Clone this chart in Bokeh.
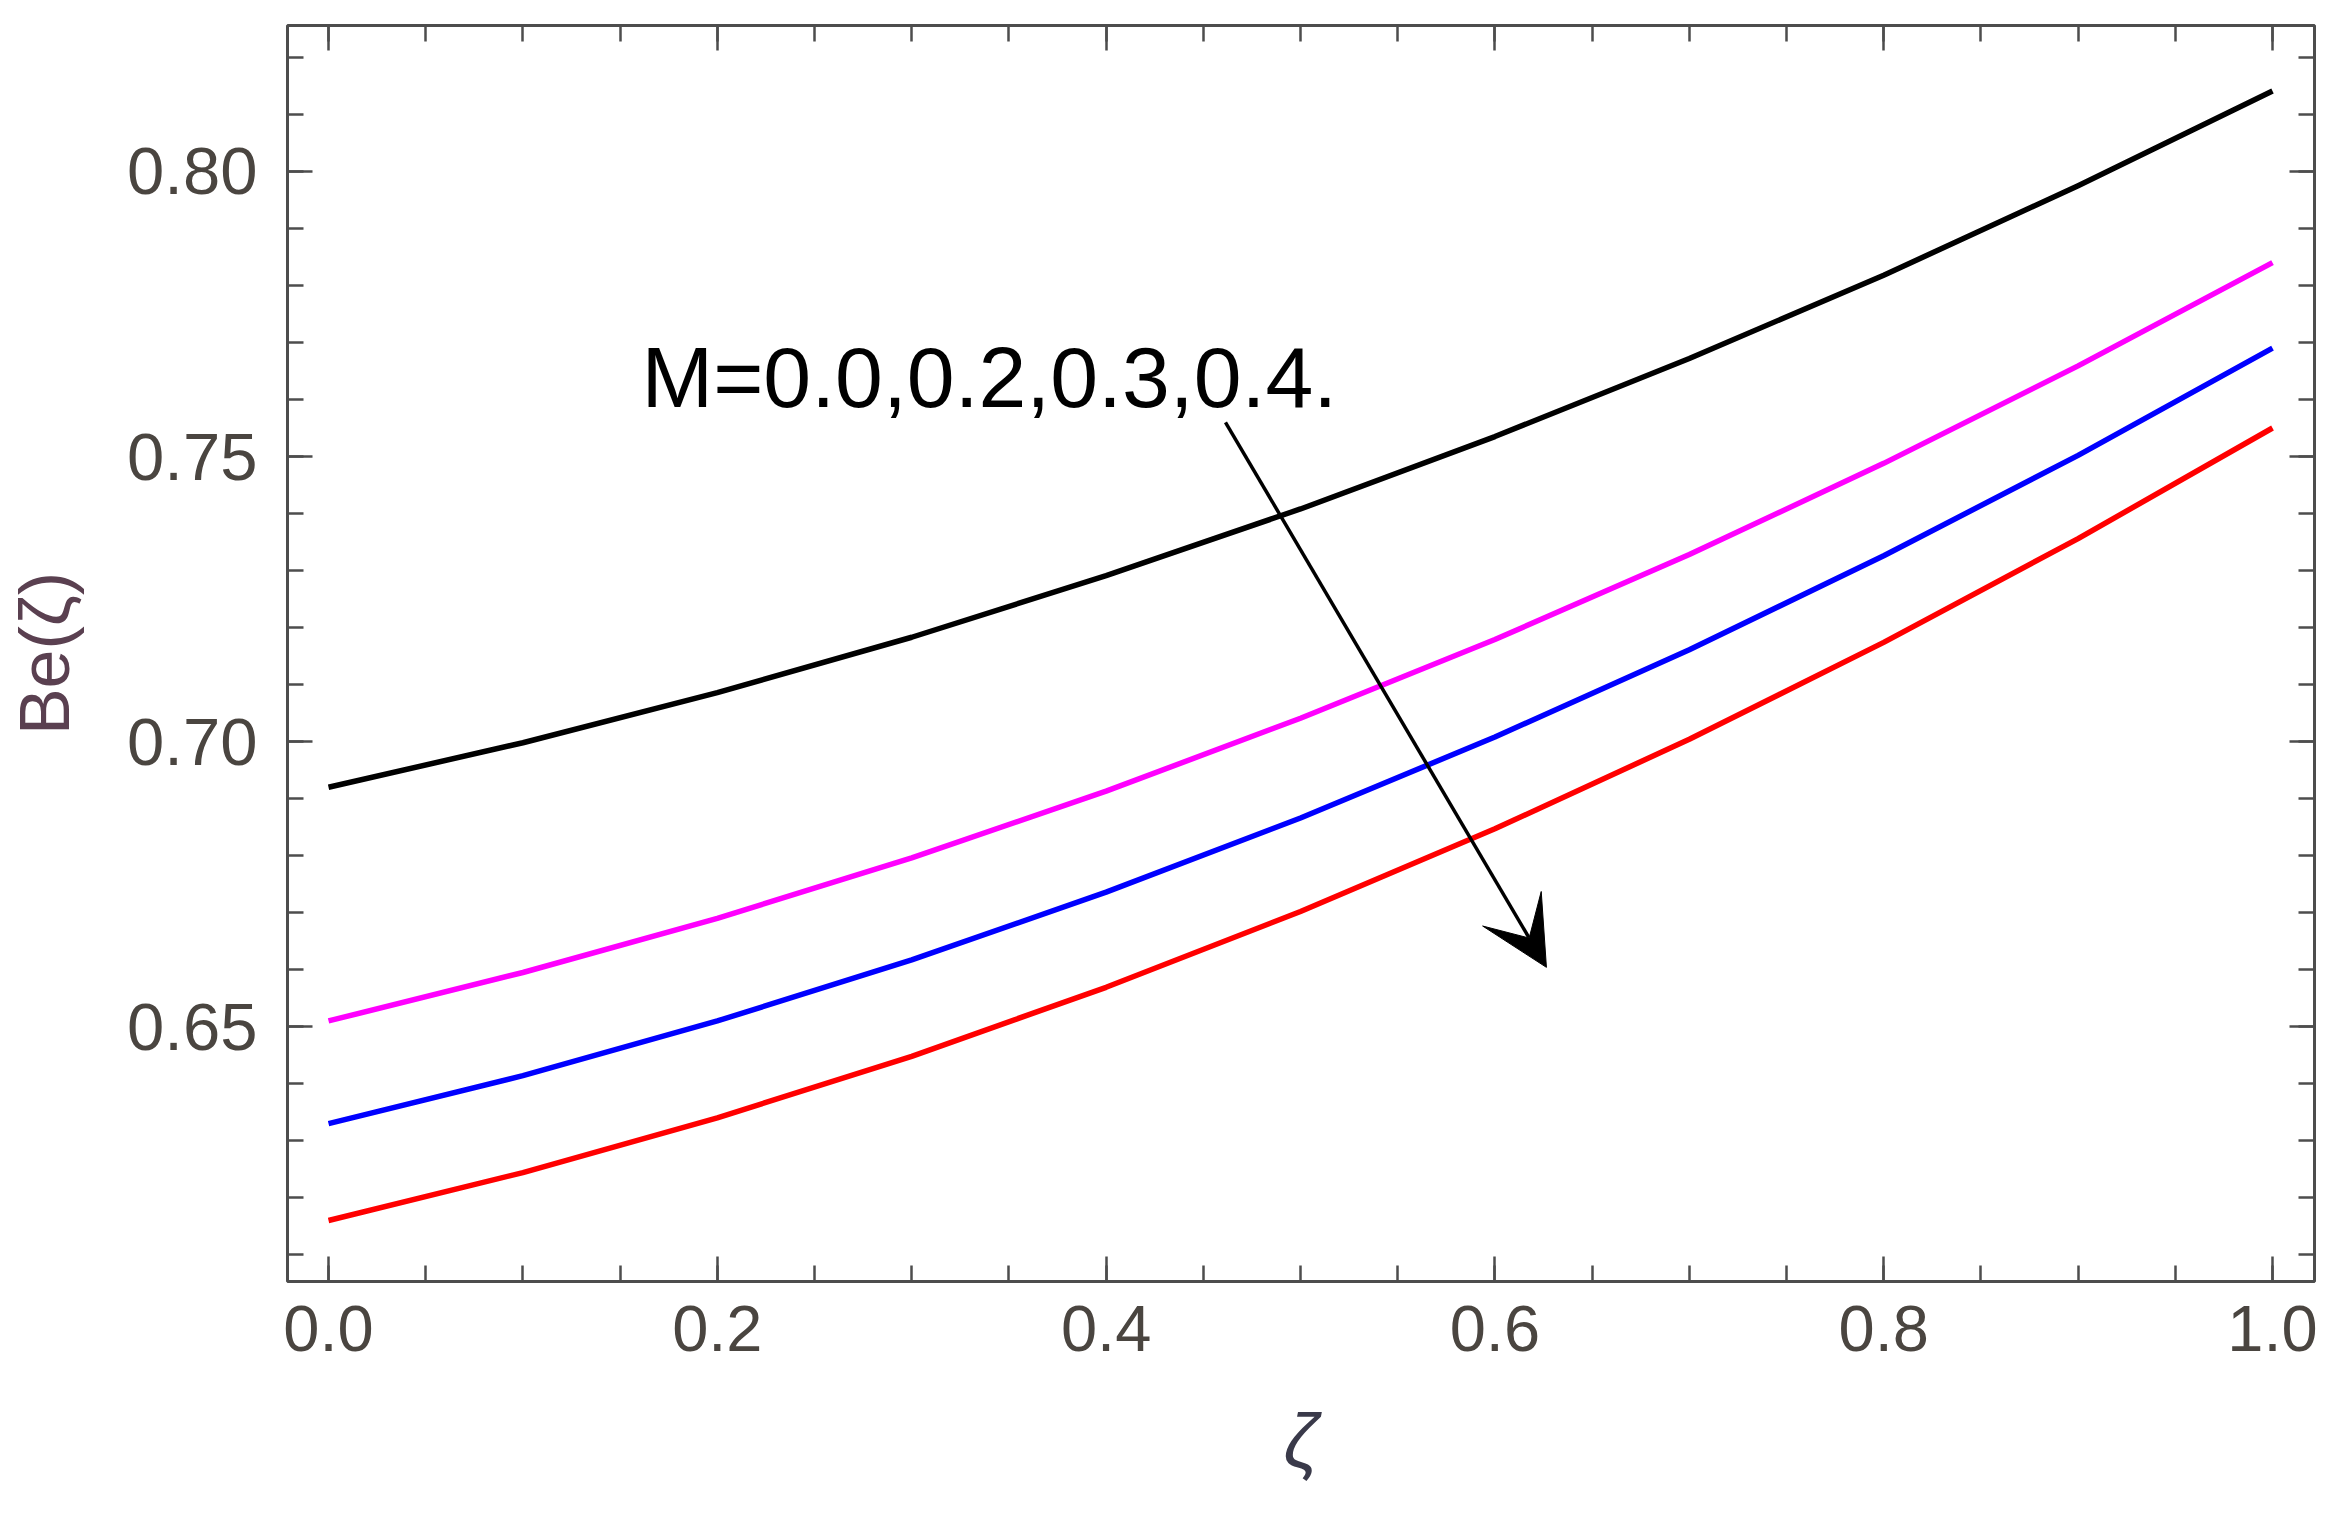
import numpy as np
from bokeh.plotting import figure
from bokeh.models import FixedTicker, LinearAxis, Arrow, VeeHead, Label, Range1d
from bokeh.embed import file_html
from bokeh.resources import INLINE

# ---- data ----
zeta = [0.0, 0.1, 0.2, 0.3, 0.4, 0.5, 0.6, 0.7, 0.8, 0.9, 1.0]
be_M00 = [0.692, 0.6998, 0.7086, 0.7183, 0.7291, 0.7408, 0.7535, 0.7672, 0.7818, 0.7975, 0.8141]
be_M02 = [0.651, 0.6595, 0.6690, 0.6796, 0.6913, 0.7041, 0.7179, 0.7328, 0.7488, 0.7659, 0.7840]
be_M03 = [0.633, 0.6414, 0.6510, 0.6617, 0.6736, 0.6866, 0.7008, 0.7161, 0.7326, 0.7502, 0.7690]
be_M04 = [0.616, 0.6244, 0.6340, 0.6448, 0.6569, 0.6702, 0.6847, 0.7004, 0.7174, 0.7356, 0.7550]
series_colors = ["black", "#ff00ff", "#0000ff", "#ff0000"]

x_ticks = [0.0, 0.2, 0.4, 0.6, 0.8, 1.0]
x_tick_labels = ["0.0", "0.2", "0.4", "0.6", "0.8", "1.0"]
y_ticks = [0.65, 0.70, 0.75, 0.80]
y_tick_labels = ["0.65", "0.70", "0.75", "0.80"]

annotation_text = "M=0.0,0.2,0.3,0.4."
annotation_pos = (0.161, 0.764)
arrow_start = (0.4614, 0.756)
arrow_end = (0.6265, 0.6604)

x_label = "ζ"
y_label = "Be(ζ)"

# ---- figure ----
FRAME_COLOR = "#4d4d4d"
TICK_TEXT = "#4a4540"

p = figure(width=2330, height=1510, output_backend="svg", toolbar_location=None,
           x_range=Range1d(-0.0211, 1.0216), y_range=Range1d(0.6053, 0.8256),
           min_border_left=287, min_border_right=16, min_border_top=25, min_border_bottom=229,
           x_axis_location=None, y_axis_location=None)
p.grid.visible = False
p.background_fill_color = "white"
p.border_fill_color = "white"
p.outline_line_color = FRAME_COLOR
p.outline_line_width = 3

x_minor = [round(v, 2) for v in np.arange(0.0, 1.0001, 0.05)]
y_minor = [round(v, 2) for v in np.arange(0.61, 0.8201, 0.01)]


def style_axis(ax, ticks, labels):
    ax.axis_line_color = None
    ax.major_tick_in = 25
    ax.major_tick_out = 0
    ax.minor_tick_in = 16
    ax.minor_tick_out = 0
    ax.major_tick_line_color = FRAME_COLOR
    ax.minor_tick_line_color = FRAME_COLOR
    ax.major_tick_line_width = 2.5
    ax.minor_tick_line_width = 2.5
    if labels is None:
        ax.major_label_overrides = {t: "" for t in ticks}
        ax.major_label_standoff = 0
        ax.major_label_text_font_size = "10px"
    else:
        ax.major_label_overrides = {t: l for t, l in zip(ticks, labels)}
        ax.major_label_text_font = "Liberation Sans"
        ax.major_label_text_color = TICK_TEXT


xb = LinearAxis(ticker=FixedTicker(ticks=x_ticks, minor_ticks=x_minor))
style_axis(xb, x_ticks, x_tick_labels)
xb.major_label_text_font_size = "65px"
xb.major_label_standoff = 24
xb.axis_label = x_label
xb.axis_label_text_font = "Liberation Sans"
xb.axis_label_text_font_size = "76px"
xb.axis_label_text_font_style = "italic"
xb.axis_label_text_color = "#3a3a4a"
xb.axis_label_standoff = 44
p.add_layout(xb, "below")

yl = LinearAxis(ticker=FixedTicker(ticks=y_ticks, minor_ticks=y_minor))
style_axis(yl, y_ticks, y_tick_labels)
yl.major_label_text_font_size = "67px"
yl.major_label_standoff = 30
yl.axis_label = y_label
yl.axis_label_text_font = "Liberation Sans"
yl.axis_label_text_font_size = "70px"
yl.axis_label_text_font_style = "normal"
yl.axis_label_text_color = "#5a4050"
yl.axis_label_standoff = 40
p.add_layout(yl, "left")

xt = LinearAxis(ticker=FixedTicker(ticks=x_ticks, minor_ticks=x_minor))
style_axis(xt, x_ticks, None)
p.add_layout(xt, "above")

yr = LinearAxis(ticker=FixedTicker(ticks=y_ticks, minor_ticks=y_minor))
style_axis(yr, y_ticks, None)
p.add_layout(yr, "right")

for ys, c in zip([be_M00, be_M02, be_M03, be_M04], series_colors):
    p.line(zeta, ys, line_color=c, line_width=5.5, line_join="round")

p.add_layout(Arrow(end=VeeHead(size=68, fill_color="black", line_color="black", line_width=1),
                   x_start=arrow_start[0], y_start=arrow_start[1],
                   x_end=arrow_end[0], y_end=arrow_end[1],
                   line_color="black", line_width=3.5))

p.add_layout(Label(x=annotation_pos[0], y=annotation_pos[1], text=annotation_text,
                   text_font="Liberation Sans", text_font_size="86px", text_color="black",
                   text_baseline="alphabetic", text_align="left"))

open("out.html", "w").write(file_html(p, INLINE))
